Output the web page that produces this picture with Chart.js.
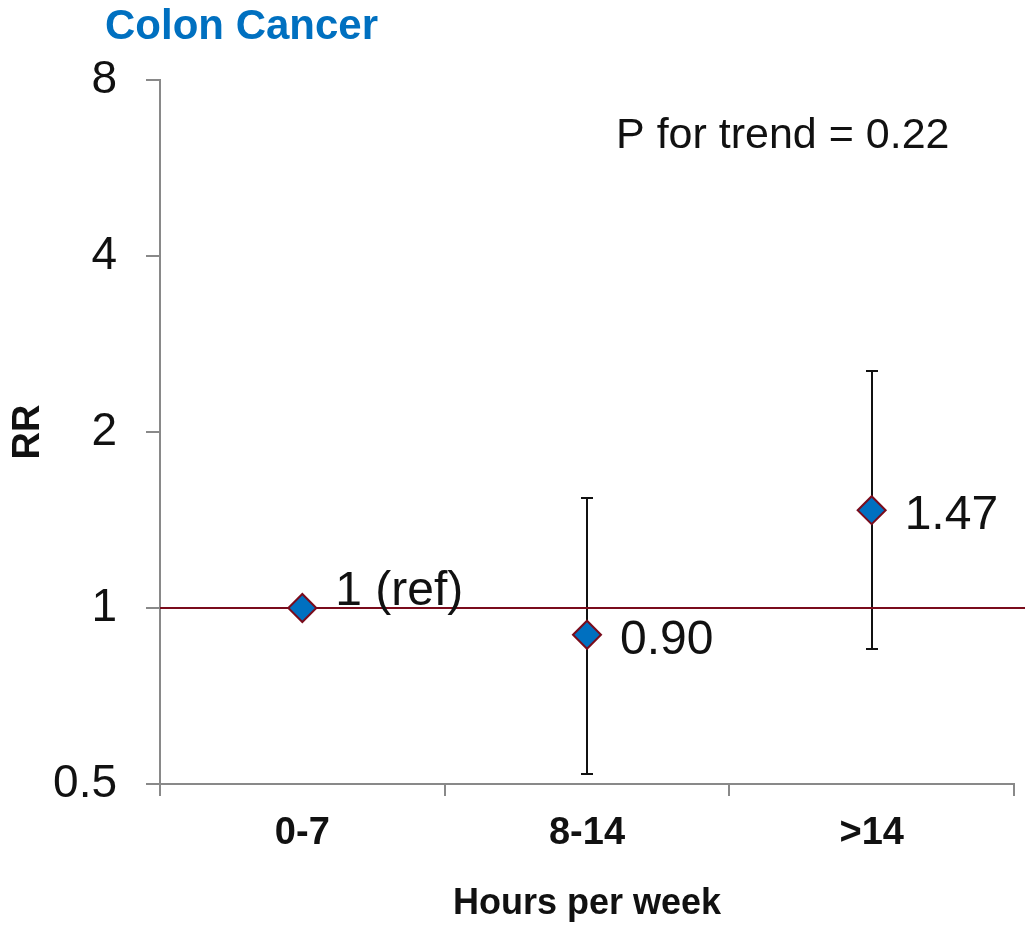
<!DOCTYPE html>
<html>
<head>
<meta charset="utf-8">
<script src="https://cdn.jsdelivr.net/npm/chart.js@4/dist/chart.umd.min.js"></script>
<style>
  html, body { margin: 0; padding: 0; background: #fff; }
  #wrap { position: relative; width: 1025px; height: 926px; }
</style>
</head>
<body>
<div id="wrap"><canvas id="chart"></canvas></div>
<script>
// Colon cancer RR by hours per week, log axis, 95% CI bars.
const hours = ["0-7", "8-14", ">14"];
const rr = [1, 0.90, 1.47];
const ciLow = [null, 0.52, 0.85];
const ciHigh = [null, 1.54, 2.54];
const pointLabels = ["1 (ref)", "0.90", "1.47"];
const rrTicks = [0.5, 1, 2, 4, 8];
const refValue = 1;
const chartTitle = "Colon Cancer";
const trendNote = "P for trend = 0.22";

const FONT = "'Liberation Sans', Arial, Helvetica, sans-serif";
const BLUE = "#0070c0", MAROON = "#7a0c1c", AXIS = "#898989", INK = "#111";

const annotations = {
  id: "annotations",
  beforeDatasetsDraw(chart) {
    const { ctx, chartArea: a, scales: { x, y } } = chart;
    ctx.save();
    // CI whiskers
    ctx.strokeStyle = INK;
    ctx.lineWidth = 2;
    hours.forEach((h, i) => {
      if (ciLow[i] == null) return;
      const px = Math.round(x.getPixelForValue(i));
      const yl = Math.round(y.getPixelForValue(ciLow[i]));
      const yh = Math.round(y.getPixelForValue(ciHigh[i]));
      ctx.beginPath();
      ctx.moveTo(px, yl); ctx.lineTo(px, yh);
      ctx.moveTo(px - 6, yl); ctx.lineTo(px + 6, yl);
      ctx.moveTo(px - 6, yh); ctx.lineTo(px + 6, yh);
      ctx.stroke();
    });
    // reference line at RR = 1, runs to the canvas edge
    const yr = Math.round(y.getPixelForValue(refValue));
    ctx.strokeStyle = MAROON;
    ctx.beginPath();
    ctx.moveTo(a.left, yr); ctx.lineTo(chart.width, yr);
    ctx.stroke();
    ctx.restore();
  },
  afterDatasetsDraw(chart) {
    const { ctx, scales: { x, y } } = chart;
    ctx.save();
    ctx.font = `48px ${FONT}`;
    ctx.fillStyle = INK;
    ctx.textBaseline = "alphabetic";
    pointLabels.forEach((t, i) => {
      const px = x.getPixelForValue(i);
      const py = y.getPixelForValue(rr[i]);
      // the ref label sits above the line, the others just below their point
      const dy = rr[i] === refValue ? -3 : 19;
      ctx.fillText(t, px + 33, py + dy);
    });
    ctx.restore();
  },
  afterDraw(chart) {
    const { ctx } = chart;
    ctx.save();
    ctx.textBaseline = "alphabetic";
    ctx.fillStyle = BLUE;
    ctx.font = `bold 42px ${FONT}`;
    ctx.fillText(chartTitle, 105, 39);
    ctx.fillStyle = INK;
    ctx.font = `43px ${FONT}`;
    ctx.fillText(trendNote, 616, 148);
    ctx.restore();
  },
};

new Chart(document.getElementById("chart"), {
  type: "line",
  data: {
    labels: hours,
    datasets: [{
      data: rr,
      showLine: false,
      pointStyle: "rectRot",
      pointRadius: 14,
      pointHoverRadius: 14,
      pointBackgroundColor: BLUE,
      pointBorderColor: MAROON,
      pointBorderWidth: 2,
    }],
  },
  options: {
    responsive: true,
    maintainAspectRatio: false,
    animation: false,
    events: [],
    layout: { autoPadding: false, padding: { top: 80, right: 11, left: 0, bottom: 0 } },
    plugins: { legend: { display: false }, tooltip: { enabled: false } },
    scales: {
      x: {
        offset: true,
        grid: { offset: true, drawOnChartArea: false, color: AXIS, lineWidth: 2, tickLength: 12 },
        border: { color: AXIS, width: 2 },
        ticks: { color: INK, padding: 15, font: { family: FONT, size: 38, weight: "bold" } },
        title: { display: true, text: "Hours per week", color: INK, padding: 0,
                 font: { family: FONT, size: 36, weight: "bold" } },
        afterFit: (s) => { s.height = 142; s.paddingLeft = 0; s.paddingRight = 0; },
      },
      y: {
        type: "logarithmic",
        min: 0.5,
        max: 8,
        grid: { drawOnChartArea: false, color: AXIS, lineWidth: 2, tickLength: 14 },
        border: { color: AXIS, width: 2 },
        afterBuildTicks: (s) => { s.ticks = rrTicks.map((v) => ({ value: v })); },
        ticks: { color: INK, padding: 29, font: { family: FONT, size: 46 },
                 callback: (v) => String(v) },
        title: { display: true, text: "RR", color: INK, padding: { top: 6, bottom: 0 },
                 font: { family: FONT, size: 38, weight: "bold" } },
        afterFit: (s) => { s.width = 160; },
      },
    },
  },
  plugins: [annotations],
});
</script>
</body>
</html>
